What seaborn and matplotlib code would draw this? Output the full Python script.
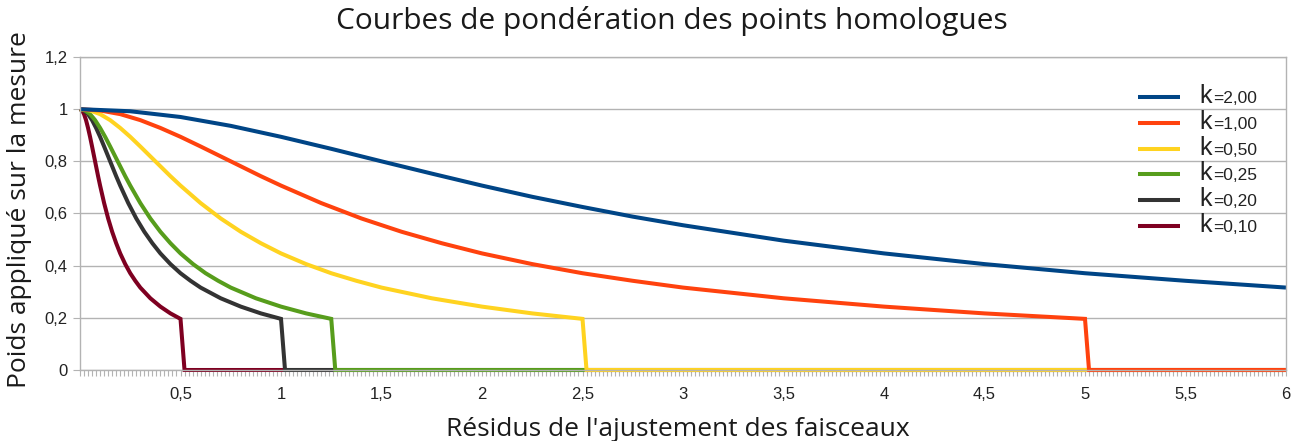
import matplotlib
matplotlib.use("Agg")
import matplotlib.pyplot as plt
import seaborn as sns
import pandas as pd
from matplotlib.ticker import FuncFormatter, MultipleLocator
from matplotlib.lines import Line2D

# ---- data: weight applied to each measurement vs. bundle-adjustment residual ----
k_labels = ["=2,00", "=1,00", "=0,50", "=0,25", "=0,20", "=0,10"]
colors = ["#004586", "#ff420e", "#ffd320", "#579d1c", "#333333", "#7e0021"]

r_k200 = [0, 0.25, 0.5, 0.75, 1.0, 1.25, 1.5, 1.75, 2.0, 2.25, 2.5, 2.75, 3.0,
          3.5, 4.0, 4.5, 5.0, 5.5, 6.0]
w_k200 = [1.000, 0.992, 0.970, 0.936, 0.894, 0.848, 0.800, 0.753, 0.707, 0.664,
          0.625, 0.588, 0.555, 0.496, 0.447, 0.406, 0.371, 0.342, 0.316]

r_k100 = [0, 0.1, 0.2, 0.3, 0.4, 0.5, 0.6, 0.7, 0.8, 0.9, 1.0, 1.2, 1.4, 1.6,
          1.8, 2.0, 2.25, 2.5, 2.75, 3.0, 3.5, 4.0, 4.5, 5.0, 5.02, 6.0]
w_k100 = [1.000, 0.995, 0.981, 0.958, 0.928, 0.894, 0.857, 0.819, 0.781, 0.743,
          0.707, 0.640, 0.581, 0.530, 0.486, 0.447, 0.406, 0.371, 0.342, 0.316,
          0.275, 0.243, 0.217, 0.196, 0.0, 0.0]

r_k050 = [0, 0.05, 0.1, 0.15, 0.2, 0.25, 0.3, 0.35, 0.4, 0.45, 0.5, 0.6, 0.7,
          0.8, 0.9, 1.0, 1.125, 1.25, 1.375, 1.5, 1.75, 2.0, 2.25, 2.5, 2.52, 6.0]
w_k050 = [1.000, 0.995, 0.981, 0.958, 0.928, 0.894, 0.857, 0.819, 0.781, 0.743,
          0.707, 0.640, 0.581, 0.530, 0.486, 0.447, 0.406, 0.371, 0.342, 0.316,
          0.275, 0.243, 0.217, 0.196, 0.0, 0.0]

r_k025 = [0, 0.025, 0.05, 0.075, 0.1, 0.125, 0.15, 0.175, 0.2, 0.225, 0.25, 0.3,
          0.35, 0.4, 0.45, 0.5, 0.5625, 0.625, 0.6875, 0.75, 0.875, 1.0, 1.125,
          1.25, 1.27, 6.0]
w_k025 = [1.000, 0.995, 0.981, 0.958, 0.928, 0.894, 0.857, 0.819, 0.781, 0.743,
          0.707, 0.640, 0.581, 0.530, 0.486, 0.447, 0.406, 0.371, 0.342, 0.316,
          0.275, 0.243, 0.217, 0.196, 0.0, 0.0]

r_k020 = [0, 0.02, 0.04, 0.06, 0.08, 0.1, 0.12, 0.14, 0.16, 0.18, 0.2, 0.24,
          0.28, 0.32, 0.36, 0.4, 0.45, 0.5, 0.55, 0.6, 0.7, 0.8, 0.9, 1.0, 1.02, 6.0]
w_k020 = [1.000, 0.995, 0.981, 0.958, 0.928, 0.894, 0.857, 0.819, 0.781, 0.743,
          0.707, 0.640, 0.581, 0.530, 0.486, 0.447, 0.406, 0.371, 0.342, 0.316,
          0.275, 0.243, 0.217, 0.196, 0.0, 0.0]

r_k010 = [0, 0.01, 0.02, 0.03, 0.04, 0.05, 0.06, 0.07, 0.08, 0.09, 0.1, 0.12,
          0.14, 0.16, 0.18, 0.2, 0.225, 0.25, 0.275, 0.3, 0.35, 0.4, 0.45, 0.5,
          0.52, 6.0]
w_k010 = [1.000, 0.995, 0.981, 0.958, 0.928, 0.894, 0.857, 0.819, 0.781, 0.743,
          0.707, 0.640, 0.581, 0.530, 0.486, 0.447, 0.406, 0.371, 0.342, 0.316,
          0.275, 0.243, 0.217, 0.196, 0.0, 0.0]

series = [(r_k200, w_k200), (r_k100, w_k100), (r_k050, w_k050),
          (r_k025, w_k025), (r_k020, w_k020), (r_k010, w_k010)]

x_ticks = [0.5, 1, 1.5, 2, 2.5, 3, 3.5, 4, 4.5, 5, 5.5, 6]
y_ticks = [0, 0.2, 0.4, 0.6, 0.8, 1.0, 1.2]

# ---- figure ----
sns.set_theme(style="white")
plt.rcParams["font.family"] = ["Liberation Sans", "DejaVu Sans"]
W, H = 1301, 441
fig = plt.figure(figsize=(W / 100, H / 100), dpi=100)
ax = fig.add_axes([80 / W, (H - 370) / H, (1286 - 80) / W, (370 - 57) / H])

grid_col = "#b3b3b3"
text_col = "#1a1a1a"
lw = 2.9

# narrowest curve first so the wider ones lie on top along the zero line
for (r, w), col in reversed(list(zip(series, colors))):
    df = pd.DataFrame({"r": r, "w": w})
    sns.lineplot(data=df, x="r", y="w", ax=ax, color=col, linewidth=lw,
                 sort=False, estimator=None, clip_on=False,
                 solid_joinstyle="miter", solid_capstyle="butt")

ax.set_xlim(0, 6)
ax.set_ylim(0, 1.2)
ax.set_xticks(x_ticks)
ax.set_yticks(y_ticks)
ax.xaxis.set_minor_locator(MultipleLocator(0.02))
comma = FuncFormatter(lambda v, p: f"{v:g}".replace(".", ","))
ax.xaxis.set_major_formatter(comma)
ax.yaxis.set_major_formatter(comma)
ax.tick_params(axis="x", which="both", direction="out", length=4.5, width=0.8,
               color=grid_col, labelsize=12, labelcolor="#222222", pad=8,
               bottom=True)
ax.tick_params(axis="y", which="major", direction="out", length=5, width=0.8,
               color=grid_col, labelsize=12, labelcolor="#222222", pad=4,
               left=True)
ax.grid(axis="y", color=grid_col, linewidth=1.0)
ax.set_axisbelow(True)
for s in ax.spines.values():
    s.set_color(grid_col)
    s.set_linewidth(1.0)
ax.set_xlabel("")
ax.set_ylabel("")

title_font = ["Open Sans", "DejaVu Sans"]
fig.text(672 / W, (H - 29.5) / H, "Courbes de pondération des points homologues",
         ha="center", va="baseline", fontsize=21.5, family=title_font, color=text_col)
fig.text(678 / W, (H - 436) / H, "Résidus de l'ajustement des faisceaux",
         ha="center", va="baseline", fontsize=19, family=title_font, color=text_col)
fig.text(26 / W, (H - 210) / H, "Poids appliqué sur la mesure",
         ha="center", va="baseline", rotation=90, rotation_mode="anchor",
         fontsize=19, family=title_font, color=text_col)

# legend: small "=value" labels, with a larger "k" set in front of each
handles = [Line2D([], [], color=c, linewidth=lw, solid_capstyle="butt") for c in colors]
leg = ax.legend(handles, k_labels, loc="upper left",
                bbox_to_anchor=(1138 / W, (H - 91) / H), bbox_transform=fig.transFigure,
                frameon=False, fontsize=12.5, handlelength=2.4, handletextpad=1.9,
                labelspacing=0.61, borderpad=0, borderaxespad=0)
for t in leg.get_texts():
    t.set_color("#222222")

fig.canvas.draw()
for t in leg.get_texts():
    bx, by = t.get_transform().transform(t.get_position())
    fig.text(bx - 1, by, "k", ha="right", va="baseline", fontsize=18,
             color="#222222", transform=None)

fig.savefig("out.png", dpi=100)
